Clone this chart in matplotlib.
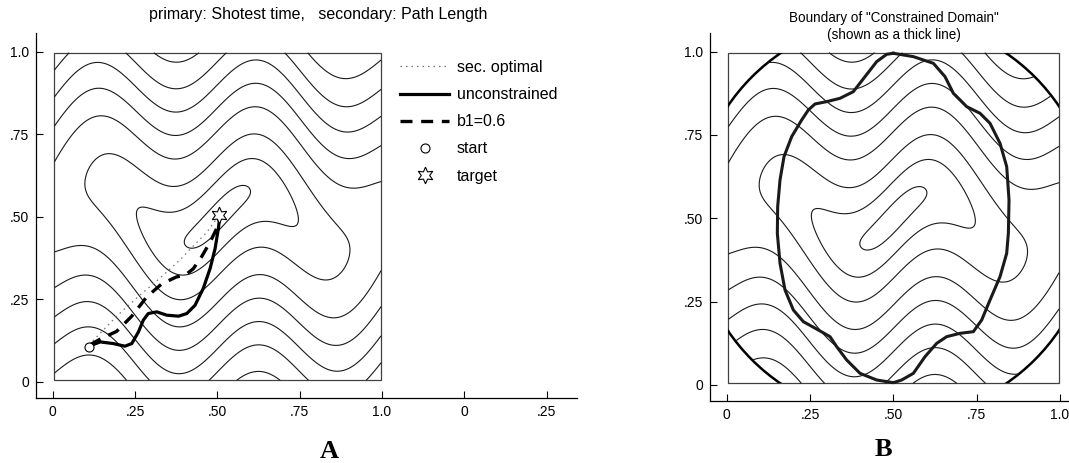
import numpy as np
import matplotlib
matplotlib.use("Agg")
import matplotlib.pyplot as plt
from matplotlib.lines import Line2D
from matplotlib.patches import Rectangle, Circle

plt.rcParams['font.family'] = ['Liberation Sans', 'DejaVu Sans']

# start / target of the path problem
start = (0.11, 0.105)
target = (0.505, 0.505)

# paths
sec_x = [0.11, 0.194, 0.265, 0.331, 0.387, 0.427, 0.468, 0.505]
sec_y = [0.112, 0.199, 0.263, 0.319, 0.37, 0.412, 0.453, 0.505]
unc_x = [0.11, 0.144, 0.184, 0.219, 0.24, 0.26, 0.275, 0.29, 0.316, 0.346,
         0.382, 0.407, 0.432, 0.457, 0.478, 0.493, 0.503, 0.507]
unc_y = [0.108, 0.121, 0.116, 0.108, 0.116, 0.151, 0.187, 0.207, 0.212, 0.202,
         0.199, 0.207, 0.232, 0.283, 0.344, 0.404, 0.465, 0.5]
b1_x = [0.113, 0.145, 0.194, 0.24, 0.285, 0.331, 0.376, 0.402, 0.427, 0.452,
        0.478, 0.498, 0.507]
b1_y = [0.112, 0.13, 0.153, 0.199, 0.257, 0.297, 0.318, 0.323, 0.343, 0.379,
        0.424, 0.465, 0.5]

# terrain used for the contour lines
wave_amp = 0.085
wave_cycles = 2
x_stretch = 0.45
cross = 0.1
levels = [0.045, 0.11, 0.18, 0.26, 0.33, 0.40, 0.47, 0.55, 0.63, 0.71,
          0.79, 0.87]

# constrained domain (panel B)
domain_radius = 0.6
bnd_x = [0.50, 0.56, 0.62, 0.655, 0.68, 0.72, 0.76, 0.79, 0.82, 0.84, 0.847,
         0.845, 0.84, 0.82, 0.79, 0.765, 0.74, 0.70, 0.66, 0.63, 0.595, 0.56,
         0.525, 0.50, 0.45, 0.40, 0.36, 0.33, 0.31, 0.275, 0.23, 0.20, 0.175,
         0.16, 0.152, 0.153, 0.16, 0.172, 0.195, 0.225, 0.245, 0.265, 0.30,
         0.34, 0.38, 0.415, 0.45, 0.48, 0.50]
bnd_y = [0.995, 0.985, 0.965, 0.925, 0.875, 0.835, 0.815, 0.785, 0.725, 0.655,
         0.555, 0.455, 0.395, 0.325, 0.255, 0.195, 0.16, 0.155, 0.145, 0.125,
         0.085, 0.035, 0.015, 0.007, 0.015, 0.035, 0.075, 0.115, 0.145, 0.165,
         0.19, 0.225, 0.285, 0.365, 0.455, 0.535, 0.615, 0.685, 0.745, 0.795,
         0.825, 0.843, 0.85, 0.86, 0.88, 0.925, 0.97, 0.992, 0.995]

lo, hi = 0.005, 0.997
g = np.linspace(lo, hi, 500)
X, Y = np.meshgrid(g, g)
DX = X - 0.5
DY = Y - 0.5 - wave_amp * np.sin(2 * np.pi * wave_cycles * X)
Z = np.sqrt((x_stretch * DX) ** 2 + DY ** 2 + cross * DX * DY)

W, H = 1069, 463
fig = plt.figure(figsize=(W / 100, H / 100), dpi=100)


def px_axes(left, right, top, bottom):
    return fig.add_axes([left / W, 1 - bottom / H, (right - left) / W, (bottom - top) / H])


def style_axes(ax):
    for s in ['top', 'right']:
        ax.spines[s].set_visible(False)
    for s in ['left', 'bottom']:
        ax.spines[s].set_linewidth(0.9)
    ax.tick_params(direction='in', length=5, width=0.8, labelsize=10, pad=5)


dot_style = dict(color='0.45', lw=0.9, ls=(0, (1.2, 3.2)))
dash_style = dict(color='black', lw=2.4, ls=(0, (3.6, 2.6)))
solid_style = dict(color='black', lw=2.3)
start_style = dict(marker='o', ms=6.5, mfc='white', mec='black', mew=0.8, ls='none')
target_style = dict(marker=(6, 1, 0), ms=12, mfc='white', mec='black', mew=0.8, ls='none')

# ---- panel A
axA = px_axes(36.3, 577, 33.3, 397.7)
axA.set_xlim(-0.05, 1.592)
axA.set_ylim(-0.048, 1.056)
style_axes(axA)
axA.set_xticks([0, 0.25, 0.5, 0.75, 1.0, 1.25, 1.5])
axA.set_xticklabels(['0', '.25', '.50', '.75', '1.0', '0', '.25'])
axA.set_yticks([0, 0.25, 0.5, 0.75, 1.0])
axA.set_yticklabels(['0', '.25', '.50', '.75', '1.0'])

axA.contour(X, Y, Z, levels=levels, colors='0.1', linewidths=0.8)
axA.add_patch(Rectangle((lo, lo), hi - lo, hi - lo, fill=False, ec='0.25', lw=0.9))
axA.plot(sec_x, sec_y, **dot_style)
axA.plot(unc_x, unc_y, solid_capstyle='round', **solid_style)
axA.plot(b1_x, b1_y, **dash_style)
axA.plot(*start, **start_style)
axA.plot(*target, **target_style)

handles = [Line2D([], [], **dot_style), Line2D([], [], **solid_style),
           Line2D([], [], **dash_style), Line2D([], [], **start_style),
           Line2D([], [], **target_style)]
labels = ['sec. optimal', 'unconstrained', 'b1=0.6', 'start', 'target']
fig.legend(handles, labels, loc='upper left', bbox_to_anchor=(399.6 / W, 1 - 60 / H),
           frameon=False, fontsize=11.5, borderpad=0, borderaxespad=0,
           handlelength=3.12, handletextpad=0.46, labelspacing=0.76, numpoints=1)

fig.text(318 / W, 1 - 15 / H, 'primary: Shotest time,   secondary: Path Length',
         ha='center', va='center', fontsize=11.5)
fig.text(328.9 / W, 1 - 451 / H, 'A', ha='center', va='center', fontsize=19,
         fontweight='bold', family='Liberation Serif')

# ---- panel B
axB = px_axes(710, 1076.7, 33.3, 401)
axB.set_xlim(-0.05, 1.05)
axB.set_ylim(-0.048, 1.055)
style_axes(axB)
axB.set_xticks([0, 0.25, 0.5, 0.75, 1.0])
axB.set_xticklabels(['0', '.25', '.50', '.75', '1.0'])
axB.set_yticks([0, 0.25, 0.5, 0.75, 1.0])
axB.set_yticklabels(['0', '.25', '.50', '.75', '1.0'])

ZB = np.ma.masked_where((X - 0.5) ** 2 + (Y - 0.5) ** 2 > domain_radius ** 2, Z)
axB.contour(X, Y, ZB, levels=levels, colors='0.1', linewidths=0.8)
frame = Rectangle((lo, lo), hi - lo, hi - lo, fill=False, ec='0.25', lw=0.9)
axB.add_patch(frame)
ring = Circle((0.5, 0.5), domain_radius, fill=False, ec='black', lw=1.8)
axB.add_patch(ring)
ring.set_clip_path(frame)
axB.plot(bnd_x, bnd_y, color='0.1', lw=2.2)

fig.text(894 / W, 1 - 26.2 / H, 'Boundary of "Constrained Domain"\n(shown as a thick line)',
         ha='center', va='center', fontsize=9.75, linespacing=1.3)
fig.text(883.3 / W, 1 - 450 / H, 'B', ha='center', va='center', fontsize=19,
         fontweight='bold', family='Liberation Serif')

fig.savefig('out.png', dpi=100)
